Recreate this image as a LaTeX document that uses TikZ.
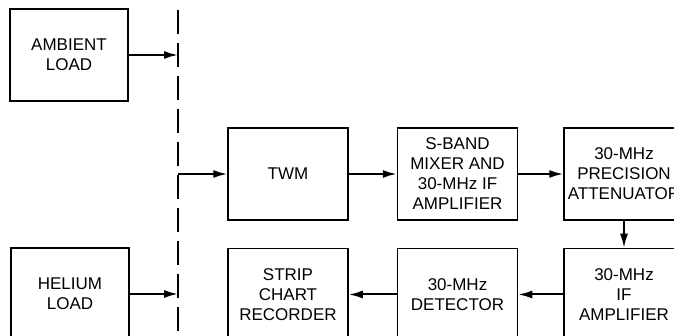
\documentclass[tikz,border=0pt]{standalone}
\usepackage{fontspec}
\setmainfont{Liberation Sans}
\usetikzlibrary{arrows.meta,positioning}

\begin{document}
\begin{tikzpicture}[
  x=1pt, y=-1pt,
  font=\fontsize{17}{20}\selectfont,
  >={Latex[length=14pt,width=8pt]},
  block/.style={draw, line width=1.5pt, align=center, minimum width=120pt, minimum height=92pt, inner sep=2pt},
  flow/.style={->, line width=2pt},
  bus/.style={line width=1.5pt, dash pattern=on 24pt off 9pt}
]
\useasboundingbox (0,0) rectangle (674,336);
\clip (0,0) rectangle (674,336);

\node[block, minimum width=118pt] (ambient) at (69,55) {AMBIENT\\LOAD};
\node[block, minimum width=118pt] (helium) at (70,294) {HELIUM\\LOAD};

\node[block] (twm) at (288,174) {TWM};
\node[block, right=48pt of twm] (mixer) {S-BAND\\MIXER AND\\30-MHz IF\\AMPLIFIER};
\node[block, right=45pt of mixer] (atten) {30-MHz\\PRECISION\\ATTENUATOR};
\node[block, below=27pt of atten] (ifamp) {30-MHz\\IF\\AMPLIFIER};
\node[block, below=27pt of mixer] (detect) {30-MHz\\DETECTOR};
\node[block, below=27pt of twm] (recorder) {STRIP\\CHART\\RECORDER};

\coordinate (bustop) at (178,10);
\coordinate (busbot) at (178,336);
\draw[bus] (bustop) -- (busbot);

\coordinate (inamb) at (bustop |- ambient.east);
\coordinate (inhel) at (bustop |- helium.east);
\coordinate (outtwm) at (bustop |- twm.west);

\draw[flow] (ambient.east) -- (inamb);
\draw[flow] (helium.east) -- (inhel);
\draw[flow] (outtwm) -- (twm.west);
\draw[flow] (twm.east) -- (mixer.west);
\draw[flow] (mixer.east) -- (atten.west);
\draw[flow] (atten.south) -- (ifamp.north);
\draw[flow] (ifamp.west) -- (detect.east);
\draw[flow] (detect.west) -- (recorder.east);

\end{tikzpicture}
\end{document}
